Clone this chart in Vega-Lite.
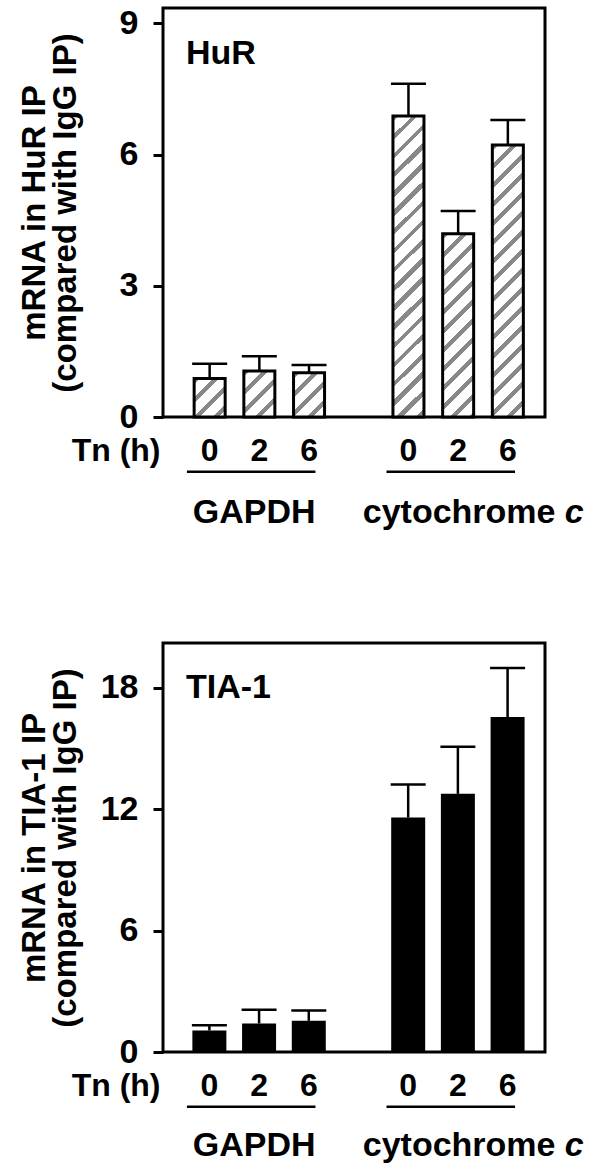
{
  "$schema": "https://vega.github.io/schema/vega-lite/v6.json",
  "background": "white",
  "padding": {"left": 16, "top": 4, "right": 5, "bottom": 5},
  "bounds": "flush",
  "spacing": 226,
  "config": {
    "font": "Liberation Sans",
    "view": {"stroke": "black", "strokeWidth": 3},
    "axis": {"grid": false, "domain": false, "labelFontWeight": "bold", "titleFontWeight": "bold", "labelColor": "black", "titleColor": "black", "tickColor": "black"}
  },
  "datasets": {
    "hur": [
      {"gene": "GAPDH", "tn": "0", "slot": "GAPDH|0", "mean": 0.88, "upper": 1.22},
      {"gene": "GAPDH", "tn": "2", "slot": "GAPDH|2", "mean": 1.05, "upper": 1.39},
      {"gene": "GAPDH", "tn": "6", "slot": "GAPDH|6", "mean": 1.01, "upper": 1.19},
      {"gene": "cytochrome c", "tn": "0", "slot": "cytochrome c|0", "mean": 6.88, "upper": 7.62},
      {"gene": "cytochrome c", "tn": "2", "slot": "cytochrome c|2", "mean": 4.19, "upper": 4.71},
      {"gene": "cytochrome c", "tn": "6", "slot": "cytochrome c|6", "mean": 6.22, "upper": 6.79}
    ],
    "tia": [
      {"gene": "GAPDH", "tn": "0", "slot": "GAPDH|0", "mean": 1.06, "upper": 1.32},
      {"gene": "GAPDH", "tn": "2", "slot": "GAPDH|2", "mean": 1.41, "upper": 2.09},
      {"gene": "GAPDH", "tn": "6", "slot": "GAPDH|6", "mean": 1.54, "upper": 2.05},
      {"gene": "cytochrome c", "tn": "0", "slot": "cytochrome c|0", "mean": 11.58, "upper": 13.21},
      {"gene": "cytochrome c", "tn": "2", "slot": "cytochrome c|2", "mean": 12.75, "upper": 15.07},
      {"gene": "cytochrome c", "tn": "6", "slot": "cytochrome c|6", "mean": 16.54, "upper": 18.96}
    ],
    "groups": [
      {"group": "GAPDH"},
      {"group": "cytochrome c"}
    ]
  },
  "vconcat": [
    {
      "width": 382,
      "height": 409,
      "layer": [
        {
          "data": {"name": "hur"},
          "layer": [
            {
              "mark": {"type": "bar", "stroke": "black", "strokeWidth": 3},
              "encoding": {
                "x": {
                  "field": "slot", "type": "nominal", "sort": null,
                  "scale": {"domain": ["GAPDH|0", "GAPDH|2", "GAPDH|6", " ", "cytochrome c|0", "cytochrome c|2", "cytochrome c|6"], "paddingInner": 0.376, "paddingOuter": 0.531, "align": 0.59},
                  "axis": {"labelExpr": "indexof(datum.value,'|') < 0 ? '' : split(datum.value,'|')[1]", "labelAngle": 0, "labelOverlap": false, "labelFontSize": 32, "labelPadding": 33, "labelBaseline": "middle", "ticks": false, "tickSize": 0, "title": "Tn (h)", "titleFontSize": 32, "titleX": -3, "titleY": 33, "titleAlign": "right", "titleBaseline": "middle"}
                },
                "y": {
                  "field": "mean", "type": "quantitative",
                  "scale": {"domain": [0, 9.35], "nice": false},
                  "axis": {"values": [0, 3, 6, 9], "tickSize": 10, "tickWidth": 3, "labelFontSize": 34, "labelPadding": 15, "title": ["mRNA in HuR IP", "(compared with IgG IP)"], "titleFontSize": 33, "titleLineHeight": 31, "titleX": -112, "titleBaseline": "bottom"}
                },
                "fill": {
                  "condition": [
                    {"test": "datum.slot === 'GAPDH|0'", "value": {"gradient": "linear", "x1": 0, "y1": 0, "x2": 4.315, "y2": 5.358, "stops": [{"offset":0,"color":"#888"},{"offset":0.0176,"color":"#888"},{"offset":0.0176,"color":"#fff"},{"offset":0.0559,"color":"#fff"},{"offset":0.0559,"color":"#888"},{"offset":0.0735,"color":"#888"},{"offset":0.0735,"color":"#fff"},{"offset":0.1118,"color":"#fff"},{"offset":0.1118,"color":"#888"},{"offset":0.1294,"color":"#888"},{"offset":0.1294,"color":"#fff"},{"offset":0.1676,"color":"#fff"},{"offset":0.1676,"color":"#888"},{"offset":0.1853,"color":"#888"},{"offset":0.1853,"color":"#fff"},{"offset":0.2235,"color":"#fff"},{"offset":0.2235,"color":"#888"},{"offset":0.2412,"color":"#888"},{"offset":0.2412,"color":"#fff"},{"offset":1,"color":"#fff"}]}},
                    {"test": "datum.slot === 'GAPDH|2'", "value": {"gradient": "linear", "x1": 0, "y1": 0, "x2": 3.4325, "y2": 5.0857, "stops": [{"offset":0,"color":"#888"},{"offset":0.0176,"color":"#888"},{"offset":0.0176,"color":"#fff"},{"offset":0.0559,"color":"#fff"},{"offset":0.0559,"color":"#888"},{"offset":0.0735,"color":"#888"},{"offset":0.0735,"color":"#fff"},{"offset":0.1118,"color":"#fff"},{"offset":0.1118,"color":"#888"},{"offset":0.1294,"color":"#888"},{"offset":0.1294,"color":"#fff"},{"offset":0.1676,"color":"#fff"},{"offset":0.1676,"color":"#888"},{"offset":0.1853,"color":"#888"},{"offset":0.1853,"color":"#fff"},{"offset":0.2235,"color":"#fff"},{"offset":0.2235,"color":"#888"},{"offset":0.2412,"color":"#888"},{"offset":0.2412,"color":"#fff"},{"offset":1,"color":"#fff"}]}},
                    {"test": "datum.slot === 'GAPDH|6'", "value": {"gradient": "linear", "x1": 0, "y1": 0, "x2": 3.6184, "y2": 5.1568, "stops": [{"offset":0,"color":"#888"},{"offset":0.0176,"color":"#888"},{"offset":0.0176,"color":"#fff"},{"offset":0.0559,"color":"#fff"},{"offset":0.0559,"color":"#888"},{"offset":0.0735,"color":"#888"},{"offset":0.0735,"color":"#fff"},{"offset":0.1118,"color":"#fff"},{"offset":0.1118,"color":"#888"},{"offset":0.1294,"color":"#888"},{"offset":0.1294,"color":"#fff"},{"offset":0.1676,"color":"#fff"},{"offset":0.1676,"color":"#888"},{"offset":0.1853,"color":"#888"},{"offset":0.1853,"color":"#fff"},{"offset":0.2235,"color":"#fff"},{"offset":0.2235,"color":"#888"},{"offset":0.2412,"color":"#888"},{"offset":0.2412,"color":"#fff"},{"offset":1,"color":"#fff"}]}},
                    {"test": "datum.slot === 'cytochrome c|0'", "value": {"gradient": "linear", "x1": 0, "y1": 0, "x2": 0.11515, "y2": 1.1179, "stops": [{"offset":0,"color":"#888"},{"offset":0.0176,"color":"#888"},{"offset":0.0176,"color":"#fff"},{"offset":0.0559,"color":"#fff"},{"offset":0.0559,"color":"#888"},{"offset":0.0735,"color":"#888"},{"offset":0.0735,"color":"#fff"},{"offset":0.1118,"color":"#fff"},{"offset":0.1118,"color":"#888"},{"offset":0.1294,"color":"#888"},{"offset":0.1294,"color":"#fff"},{"offset":0.1676,"color":"#fff"},{"offset":0.1676,"color":"#888"},{"offset":0.1853,"color":"#888"},{"offset":0.1853,"color":"#fff"},{"offset":0.2235,"color":"#fff"},{"offset":0.2235,"color":"#888"},{"offset":0.2412,"color":"#888"},{"offset":0.2412,"color":"#fff"},{"offset":0.2794,"color":"#fff"},{"offset":0.2794,"color":"#888"},{"offset":0.2971,"color":"#888"},{"offset":0.2971,"color":"#fff"},{"offset":0.3353,"color":"#fff"},{"offset":0.3353,"color":"#888"},{"offset":0.3529,"color":"#888"},{"offset":0.3529,"color":"#fff"},{"offset":0.3912,"color":"#fff"},{"offset":0.3912,"color":"#888"},{"offset":0.4088,"color":"#888"},{"offset":0.4088,"color":"#fff"},{"offset":0.4471,"color":"#fff"},{"offset":0.4471,"color":"#888"},{"offset":0.4647,"color":"#888"},{"offset":0.4647,"color":"#fff"},{"offset":0.5029,"color":"#fff"},{"offset":0.5029,"color":"#888"},{"offset":0.5206,"color":"#888"},{"offset":0.5206,"color":"#fff"},{"offset":0.5588,"color":"#fff"},{"offset":0.5588,"color":"#888"},{"offset":0.5765,"color":"#888"},{"offset":0.5765,"color":"#fff"},{"offset":0.6147,"color":"#fff"},{"offset":0.6147,"color":"#888"},{"offset":0.6324,"color":"#888"},{"offset":0.6324,"color":"#fff"},{"offset":0.6706,"color":"#fff"},{"offset":0.6706,"color":"#888"},{"offset":0.6882,"color":"#888"},{"offset":0.6882,"color":"#fff"},{"offset":0.7265,"color":"#fff"},{"offset":0.7265,"color":"#888"},{"offset":0.7441,"color":"#888"},{"offset":0.7441,"color":"#fff"},{"offset":0.7824,"color":"#fff"},{"offset":0.7824,"color":"#888"},{"offset":0.8,"color":"#888"},{"offset":0.8,"color":"#fff"},{"offset":0.8382,"color":"#fff"},{"offset":0.8382,"color":"#888"},{"offset":0.8559,"color":"#888"},{"offset":0.8559,"color":"#fff"},{"offset":0.8941,"color":"#fff"},{"offset":0.8941,"color":"#888"},{"offset":0.9118,"color":"#888"},{"offset":0.9118,"color":"#fff"},{"offset":0.95,"color":"#fff"},{"offset":0.95,"color":"#888"},{"offset":0.9676,"color":"#888"},{"offset":0.9676,"color":"#fff"},{"offset":1,"color":"#fff"}]}},
                    {"test": "datum.slot === 'cytochrome c|2'", "value": {"gradient": "linear", "x1": 0, "y1": 0, "x2": 0.30504, "y2": 1.8035, "stops": [{"offset":0,"color":"#888"},{"offset":0.0176,"color":"#888"},{"offset":0.0176,"color":"#fff"},{"offset":0.0559,"color":"#fff"},{"offset":0.0559,"color":"#888"},{"offset":0.0735,"color":"#888"},{"offset":0.0735,"color":"#fff"},{"offset":0.1118,"color":"#fff"},{"offset":0.1118,"color":"#888"},{"offset":0.1294,"color":"#888"},{"offset":0.1294,"color":"#fff"},{"offset":0.1676,"color":"#fff"},{"offset":0.1676,"color":"#888"},{"offset":0.1853,"color":"#888"},{"offset":0.1853,"color":"#fff"},{"offset":0.2235,"color":"#fff"},{"offset":0.2235,"color":"#888"},{"offset":0.2412,"color":"#888"},{"offset":0.2412,"color":"#fff"},{"offset":0.2794,"color":"#fff"},{"offset":0.2794,"color":"#888"},{"offset":0.2971,"color":"#888"},{"offset":0.2971,"color":"#fff"},{"offset":0.3353,"color":"#fff"},{"offset":0.3353,"color":"#888"},{"offset":0.3529,"color":"#888"},{"offset":0.3529,"color":"#fff"},{"offset":0.3912,"color":"#fff"},{"offset":0.3912,"color":"#888"},{"offset":0.4088,"color":"#888"},{"offset":0.4088,"color":"#fff"},{"offset":0.4471,"color":"#fff"},{"offset":0.4471,"color":"#888"},{"offset":0.4647,"color":"#888"},{"offset":0.4647,"color":"#fff"},{"offset":0.5029,"color":"#fff"},{"offset":0.5029,"color":"#888"},{"offset":0.5206,"color":"#888"},{"offset":0.5206,"color":"#fff"},{"offset":0.5588,"color":"#fff"},{"offset":0.5588,"color":"#888"},{"offset":0.5765,"color":"#888"},{"offset":0.5765,"color":"#fff"},{"offset":0.6147,"color":"#fff"},{"offset":0.6147,"color":"#888"},{"offset":0.6324,"color":"#888"},{"offset":0.6324,"color":"#fff"},{"offset":1,"color":"#fff"}]}},
                    {"test": "datum.slot === 'cytochrome c|6'", "value": {"gradient": "linear", "x1": 0, "y1": 0, "x2": 0.14056, "y2": 1.2336, "stops": [{"offset":0,"color":"#888"},{"offset":0.0176,"color":"#888"},{"offset":0.0176,"color":"#fff"},{"offset":0.0559,"color":"#fff"},{"offset":0.0559,"color":"#888"},{"offset":0.0735,"color":"#888"},{"offset":0.0735,"color":"#fff"},{"offset":0.1118,"color":"#fff"},{"offset":0.1118,"color":"#888"},{"offset":0.1294,"color":"#888"},{"offset":0.1294,"color":"#fff"},{"offset":0.1676,"color":"#fff"},{"offset":0.1676,"color":"#888"},{"offset":0.1853,"color":"#888"},{"offset":0.1853,"color":"#fff"},{"offset":0.2235,"color":"#fff"},{"offset":0.2235,"color":"#888"},{"offset":0.2412,"color":"#888"},{"offset":0.2412,"color":"#fff"},{"offset":0.2794,"color":"#fff"},{"offset":0.2794,"color":"#888"},{"offset":0.2971,"color":"#888"},{"offset":0.2971,"color":"#fff"},{"offset":0.3353,"color":"#fff"},{"offset":0.3353,"color":"#888"},{"offset":0.3529,"color":"#888"},{"offset":0.3529,"color":"#fff"},{"offset":0.3912,"color":"#fff"},{"offset":0.3912,"color":"#888"},{"offset":0.4088,"color":"#888"},{"offset":0.4088,"color":"#fff"},{"offset":0.4471,"color":"#fff"},{"offset":0.4471,"color":"#888"},{"offset":0.4647,"color":"#888"},{"offset":0.4647,"color":"#fff"},{"offset":0.5029,"color":"#fff"},{"offset":0.5029,"color":"#888"},{"offset":0.5206,"color":"#888"},{"offset":0.5206,"color":"#fff"},{"offset":0.5588,"color":"#fff"},{"offset":0.5588,"color":"#888"},{"offset":0.5765,"color":"#888"},{"offset":0.5765,"color":"#fff"},{"offset":0.6147,"color":"#fff"},{"offset":0.6147,"color":"#888"},{"offset":0.6324,"color":"#888"},{"offset":0.6324,"color":"#fff"},{"offset":0.6706,"color":"#fff"},{"offset":0.6706,"color":"#888"},{"offset":0.6882,"color":"#888"},{"offset":0.6882,"color":"#fff"},{"offset":0.7265,"color":"#fff"},{"offset":0.7265,"color":"#888"},{"offset":0.7441,"color":"#888"},{"offset":0.7441,"color":"#fff"},{"offset":0.7824,"color":"#fff"},{"offset":0.7824,"color":"#888"},{"offset":0.8,"color":"#888"},{"offset":0.8,"color":"#fff"},{"offset":0.8382,"color":"#fff"},{"offset":0.8382,"color":"#888"},{"offset":0.8559,"color":"#888"},{"offset":0.8559,"color":"#fff"},{"offset":1,"color":"#fff"}]}}
                  ],
                  "value": "white"
                }
              }
            },
            {
              "mark": {"type": "rule", "strokeWidth": 2.5, "color": "black"},
              "encoding": {
                "x": {"field": "slot", "type": "nominal"},
                "y": {"field": "mean", "type": "quantitative"},
                "y2": {"field": "upper"}
              }
            },
            {
              "mark": {"type": "tick", "size": 35, "thickness": 2.5, "color": "black", "opacity": 1},
              "encoding": {
                "x": {"field": "slot", "type": "nominal"},
                "y": {"field": "upper", "type": "quantitative"}
              }
            }
          ]
        },
        {
          "data": {"name": "groups"},
          "layer": [
            {
              "mark": {"type": "rect", "color": "black", "yOffset": 53.5, "y2Offset": 56},
              "encoding": {
                "x": {"field": "group", "type": "nominal", "sort": null, "scale": {"domain": ["GAPDH", "cytochrome c"], "paddingInner": 0.356, "paddingOuter": 0.135, "align": 0.444}, "axis": null},
                "y": {"datum": 0},
                "y2": {"datum": 0}
              }
            },
            {
              "transform": [{"filter": "datum.group === 'GAPDH'"}],
              "mark": {"type": "text", "fontSize": 34, "fontWeight": "bold", "align": "center", "baseline": "middle", "dx": 3, "dy": 96, "color": "black"},
              "encoding": {
                "x": {"field": "group", "type": "nominal"},
                "y": {"datum": 0},
                "text": {"value": "GAPDH"}
              }
            },
            {
              "transform": [{"filter": "datum.group === 'cytochrome c'"}],
              "mark": {"type": "text", "fontSize": 34, "fontWeight": "bold", "align": "left", "baseline": "middle", "dx": -88, "dy": 96, "color": "black"},
              "encoding": {
                "x": {"field": "group", "type": "nominal"},
                "y": {"datum": 0},
                "text": {"value": "cytochrome"}
              }
            },
            {
              "transform": [{"filter": "datum.group === 'cytochrome c'"}],
              "mark": {"type": "text", "fontSize": 34, "fontWeight": "bold", "fontStyle": "italic", "align": "left", "baseline": "middle", "dx": 114, "dy": 96, "color": "black"},
              "encoding": {
                "x": {"field": "group", "type": "nominal"},
                "y": {"datum": 0},
                "text": {"value": "c"}
              }
            },
            {
              "transform": [{"filter": "datum.group === 'GAPDH'"}],
              "mark": {"type": "text", "fontSize": 34, "fontWeight": "bold", "align": "left", "baseline": "middle", "dx": -1, "color": "black"},
              "encoding": {
                "x": {"field": "group", "type": "nominal", "bandPosition": 0},
                "y": {"datum": 8.3},
                "text": {"value": "HuR"}
              }
            }
          ]
        }
      ],
      "resolve": {"scale": {"x": "independent"}, "axis": {"x": "independent"}}
    },
    {
      "width": 382,
      "height": 409,
      "layer": [
        {
          "data": {"name": "tia"},
          "layer": [
            {
              "mark": {"type": "bar", "color": "black"},
              "encoding": {
                "x": {
                  "field": "slot", "type": "nominal", "sort": null,
                  "scale": {"domain": ["GAPDH|0", "GAPDH|2", "GAPDH|6", " ", "cytochrome c|0", "cytochrome c|2", "cytochrome c|6"], "paddingInner": 0.316, "paddingOuter": 0.501, "align": 0.59},
                  "axis": {"labelExpr": "indexof(datum.value,'|') < 0 ? '' : split(datum.value,'|')[1]", "labelAngle": 0, "labelOverlap": false, "labelFontSize": 32, "labelPadding": 33, "labelBaseline": "middle", "ticks": false, "tickSize": 0, "title": "Tn (h)", "titleFontSize": 32, "titleX": -3, "titleY": 33, "titleAlign": "right", "titleBaseline": "middle"}
                },
                "y": {
                  "field": "mean", "type": "quantitative",
                  "scale": {"domain": [0, 20.2], "nice": false},
                  "axis": {"values": [0, 6, 12, 18], "tickSize": 10, "tickWidth": 3, "labelFontSize": 34, "labelPadding": 15, "title": ["mRNA in TIA-1 IP", "(compared with IgG IP)"], "titleFontSize": 33, "titleLineHeight": 31, "titleX": -112, "titleBaseline": "bottom"}
                }
              }
            },
            {
              "mark": {"type": "rule", "strokeWidth": 2.5, "color": "black"},
              "encoding": {
                "x": {"field": "slot", "type": "nominal"},
                "y": {"field": "mean", "type": "quantitative"},
                "y2": {"field": "upper"}
              }
            },
            {
              "mark": {"type": "tick", "size": 35, "thickness": 2.5, "color": "black", "opacity": 1},
              "encoding": {
                "x": {"field": "slot", "type": "nominal"},
                "y": {"field": "upper", "type": "quantitative"}
              }
            }
          ]
        },
        {
          "data": {"name": "groups"},
          "layer": [
            {
              "mark": {"type": "rect", "color": "black", "yOffset": 53.5, "y2Offset": 56},
              "encoding": {
                "x": {"field": "group", "type": "nominal", "sort": null, "scale": {"domain": ["GAPDH", "cytochrome c"], "paddingInner": 0.356, "paddingOuter": 0.135, "align": 0.444}, "axis": null},
                "y": {"datum": 0},
                "y2": {"datum": 0}
              }
            },
            {
              "transform": [{"filter": "datum.group === 'GAPDH'"}],
              "mark": {"type": "text", "fontSize": 34, "fontWeight": "bold", "align": "center", "baseline": "middle", "dx": 3, "dy": 94, "color": "black"},
              "encoding": {
                "x": {"field": "group", "type": "nominal"},
                "y": {"datum": 0},
                "text": {"value": "GAPDH"}
              }
            },
            {
              "transform": [{"filter": "datum.group === 'cytochrome c'"}],
              "mark": {"type": "text", "fontSize": 34, "fontWeight": "bold", "align": "left", "baseline": "middle", "dx": -88, "dy": 94, "color": "black"},
              "encoding": {
                "x": {"field": "group", "type": "nominal"},
                "y": {"datum": 0},
                "text": {"value": "cytochrome"}
              }
            },
            {
              "transform": [{"filter": "datum.group === 'cytochrome c'"}],
              "mark": {"type": "text", "fontSize": 34, "fontWeight": "bold", "fontStyle": "italic", "align": "left", "baseline": "middle", "dx": 114, "dy": 94, "color": "black"},
              "encoding": {
                "x": {"field": "group", "type": "nominal"},
                "y": {"datum": 0},
                "text": {"value": "c"}
              }
            },
            {
              "transform": [{"filter": "datum.group === 'GAPDH'"}],
              "mark": {"type": "text", "fontSize": 34, "fontWeight": "bold", "align": "left", "baseline": "middle", "dx": -1, "color": "black"},
              "encoding": {
                "x": {"field": "group", "type": "nominal", "bandPosition": 0},
                "y": {"datum": 18.0},
                "text": {"value": "TIA-1"}
              }
            }
          ]
        }
      ],
      "resolve": {"scale": {"x": "independent"}, "axis": {"x": "independent"}}
    }
  ]
}
